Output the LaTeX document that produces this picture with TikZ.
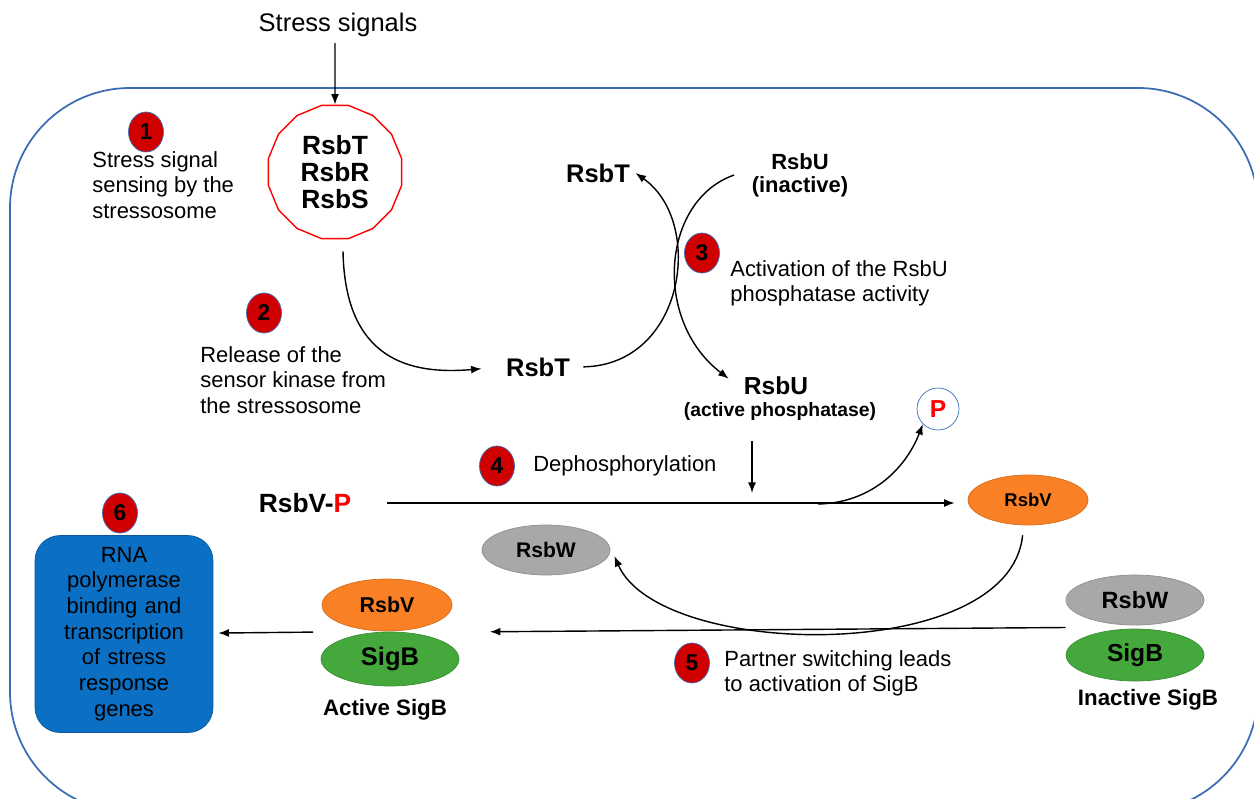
\documentclass[tikz,border=0pt]{standalone}
\usepackage{fontspec}
\setmainfont{Liberation Sans}
\usetikzlibrary{shapes, arrows.meta, positioning, calc}

\definecolor{cellblue}{HTML}{3C6DB4}
\definecolor{badgered}{HTML}{D00000}
\definecolor{rsbvorange}{HTML}{F98024}
\definecolor{sigbgreen}{HTML}{45A83C}
\definecolor{rsbwgray}{HTML}{A8A8A8}
\definecolor{boxblue}{HTML}{0B6FC3}

\begin{document}
\begin{tikzpicture}[
        x=0.02cm, y=-0.02cm,
        line/.style={draw, -{Latex[length=6pt, width=4.5pt]}, line width=0.8pt},
        cell/.style={draw=cellblue, line width=1pt, rounded corners=2.4cm},
        badge/.style={ellipse, draw=cellblue, fill=badgered, minimum width=0.7cm, minimum height=0.8cm, inner sep=0pt, font=\bfseries\fontsize{13}{13}\selectfont},
        note/.style={anchor=west, align=left, inner sep=0pt, font=\fontsize{12.5}{14.4}\selectfont},
        prot/.style={inner sep=3pt, font=\bfseries\fontsize{14.5}{14.5}\selectfont},
        blob/.style={ellipse, inner sep=0pt, minimum height=1cm, font=\bfseries\fontsize{12.5}{12.5}\selectfont},
        tag/.style={font=\bfseries\fontsize{12.7}{12.7}\selectfont}
    ]
        \useasboundingbox (0,0) rectangle (1254,798);

        % Cell
        \draw [cell] (10,88) rectangle (1258,812);

        % Stressosome
        \node [font=\fontsize{14.5}{14.5}\selectfont] (signals) at (338,25) {Stress signals};
        \node [regular polygon, regular polygon sides=16, draw=red, line width=0.8pt, minimum size=2.72cm, align=center, font=\bfseries\fontsize{15}{15.3}\selectfont] (stress) at (335,172) {RsbT\\RsbR\\RsbS};
        \node [badge] (b1) at (146,132) {1};
        \node [note] (t1) at (92,185) {Stress signal\\sensing by the\\stressosome};

        \path [line] (signals.south -| stress) -- (stress.north);

        % Release of RsbT
        \node [badge] (b2) at (264,313) {2};
        \node [note] (t2) at (200,380) {Release of the\\sensor kinase from\\the stressosome};
        \node [prot] (tmid) at (538,367) {RsbT};

        \path [line, shorten >=0.38cm] ([shift={(8,12)}]stress.south) .. controls (345,360) and (410,375) .. (tmid.west);

        % RsbU activation
        \node [prot] (ttop) at (598,173) {RsbT};
        \node [prot, align=center, font=\bfseries\fontsize{12.5}{13}\selectfont] (uin) at (800,175) {RsbU\\(inactive)};
        \node [badge] (b3) at (702,253) {3};
        \node [note] (t3) at (730,283) {Activation of the RsbU\\phosphatase activity};
        \node [prot, font=\bfseries\fontsize{14}{14}\selectfont] (uact) at (776,386) {RsbU};
        \node [prot, font=\bfseries\fontsize{11}{11}\selectfont] (uactlbl) at (780,411) {(active phosphatase)};

        \path [line, shorten <=0.16cm] (tmid.east) .. controls (685,365) and (705,222) .. (ttop.east);
        \path [line, shorten >=0.24cm] ([xshift=-0.24cm]uin.west) .. controls (662,200) and (652,320) .. (uact.west);

        % Dephosphorylation
        \node [badge] (b4) at (497,466) {4};
        \node [note] (t4) at (533,466) {Dephosphorylation};
        \node [prot, font=\bfseries\fontsize{15}{15}\selectfont] (vp) at (305,503) {RsbV-\textcolor{red}{P}};
        \node [blob, fill=rsbvorange, draw=rsbvorange!85!black, minimum width=2.4cm, font=\bfseries\fontsize{10.5}{10.5}\selectfont] (v) at (1028,500) {RsbV};
        \node [circle, draw=cellblue, minimum size=0.84cm, inner sep=0pt, text=red, font=\bfseries\fontsize{14}{14}\selectfont] (pcirc) at (938,409) {P};
        \coordinate (dbot) at (752,493);
        \coordinate (split) at (818,504);

        \path [line, shorten <=0.3cm] (uactlbl.south -| dbot) -- (dbot);
        \path [line, shorten <=0.6cm, shorten >=0.26cm] (vp.east) -- (vp.east -| v.west);
        \path [line] (split) .. controls (870,503) and (905,470) .. (pcirc.south west);

        % Partner switching
        \node [blob, fill=rsbwgray, draw=rsbwgray!85!black, minimum width=2.56cm, font=\bfseries\fontsize{12}{12}\selectfont] (w) at (546,550) {RsbW};
        \node [blob, fill=rsbwgray, draw=rsbwgray!85!black, minimum width=2.76cm, font=\bfseries\fontsize{13.4}{13.4}\selectfont] (wr) at (1135,600) {RsbW};
        \node [blob, fill=sigbgreen, draw=sigbgreen!85!black, minimum width=2.76cm, minimum height=1.04cm, font=\bfseries\fontsize{14}{14}\selectfont] (sr) at (1135,655) {SigB};
        \node [tag] (inact) at (1148,700) {Inactive SigB};
        \node [blob, fill=rsbvorange, draw=rsbvorange!85!black, minimum width=2.6cm, minimum height=1.04cm, font=\bfseries\fontsize{12.2}{12.2}\selectfont] (vl) at (387,605) {RsbV};
        \node [blob, fill=sigbgreen, draw=sigbgreen!85!black, minimum width=2.76cm, minimum height=1.08cm, font=\bfseries\fontsize{14.5}{14.5}\selectfont] (sl) at (390,659) {SigB};
        \node [tag] (act) at (385,710) {Active SigB};
        \node [badge] (b5) at (692,663) {5};
        \node [note] (t5) at (724,673) {Partner switching leads\\to activation of SigB};

        \path [line, shorten <=0.2cm] (v.-100) .. controls (1010,665) and (660,660) .. ([shift={(4,6)}]w.east);
        \path [line, shorten >=0.68cm] ($(wr.west)!0.5!(sr.west)$) -- ($(vl.east)!0.5!(sl.east)$);

        % Transcription
        \node [rectangle, rounded corners=0.5cm, fill=boxblue, draw=boxblue!80!black, minimum width=3.56cm, minimum height=3.94cm, text width=3cm, align=center, font=\fontsize{12.5}{14.6}\selectfont] (rna) at (124,634) {RNA\\polymerase\\binding and\\transcription\\of stress\\response\\genes};
        \node [badge] (b6) at (120,513) {6};

        \path [line, shorten <=0.16cm, shorten >=0.1cm] ($(vl.west)!0.5!(sl.west)$) -- (rna);

    \end{tikzpicture}
\end{document}
